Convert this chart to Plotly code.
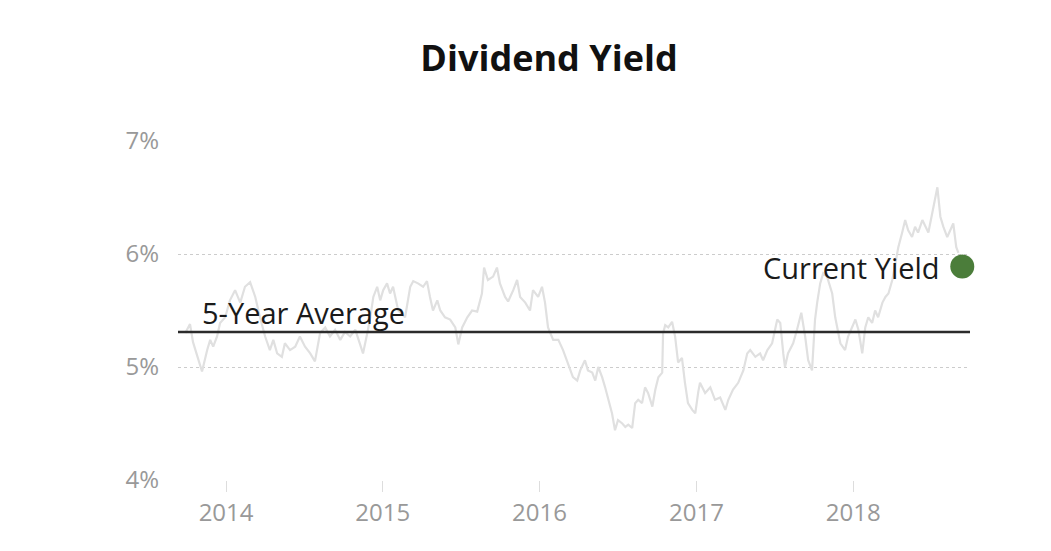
import plotly.graph_objects as go

# ---- data ----
dates = [
    "2013-09-28", "2013-10-09", "2013-10-16", "2013-10-28", "2013-11-06", "2013-11-18", "2013-11-25",
    "2013-12-02", "2013-12-11", "2013-12-18", "2013-12-30", "2014-01-10", "2014-01-22", "2014-02-03",
    "2014-02-14", "2014-02-26", "2014-03-10", "2014-03-21", "2014-04-02", "2014-04-13", "2014-04-21",
    "2014-04-30", "2014-05-11", "2014-05-18", "2014-05-30", "2014-06-11", "2014-06-22", "2014-07-04",
    "2014-07-16", "2014-07-27", "2014-08-08", "2014-08-20", "2014-08-31", "2014-09-12", "2014-09-24",
    "2014-10-05", "2014-10-17", "2014-10-29", "2014-11-09", "2014-11-16", "2014-11-26", "2014-12-03",
    "2014-12-10", "2014-12-19", "2014-12-26", "2015-01-02", "2015-01-11", "2015-01-18", "2015-01-25",
    "2015-02-06", "2015-02-22", "2015-03-06", "2015-03-13", "2015-03-24", "2015-04-05", "2015-04-14",
    "2015-04-21", "2015-04-28", "2015-05-08", "2015-05-15", "2015-05-26", "2015-06-07", "2015-06-19",
    "2015-06-26", "2015-07-05", "2015-07-17", "2015-07-28", "2015-08-09", "2015-08-20", "2015-08-25",
    "2015-09-03", "2015-09-15", "2015-09-24", "2015-10-01", "2015-10-13", "2015-10-20", "2015-11-01",
    "2015-11-10", "2015-11-17", "2015-11-29", "2015-12-10", "2015-12-17", "2015-12-29", "2016-01-07",
    "2016-01-14", "2016-01-21", "2016-02-02", "2016-02-14", "2016-02-25", "2016-03-08", "2016-03-19",
    "2016-03-29", "2016-04-05", "2016-04-16", "2016-04-23", "2016-05-03", "2016-05-10", "2016-05-17",
    "2016-05-26", "2016-06-02", "2016-06-09", "2016-06-18", "2016-06-25", "2016-07-02", "2016-07-12",
    "2016-07-19", "2016-07-26", "2016-08-04", "2016-08-11", "2016-08-18", "2016-08-27", "2016-09-03",
    "2016-09-10", "2016-09-20", "2016-09-27", "2016-10-04", "2016-10-13", "2016-10-15", "2016-10-20",
    "2016-10-27", "2016-11-05", "2016-11-12", "2016-11-19", "2016-11-28", "2016-12-05", "2016-12-12",
    "2016-12-22", "2016-12-29", "2017-01-05", "2017-01-09", "2017-01-21", "2017-02-02", "2017-02-13",
    "2017-02-25", "2017-03-09", "2017-03-16", "2017-03-27", "2017-04-08", "2017-04-20", "2017-04-29",
    "2017-05-06", "2017-05-18", "2017-05-29", "2017-06-05", "2017-06-15", "2017-06-26", "2017-07-08",
    "2017-07-15", "2017-07-22", "2017-07-26", "2017-08-02", "2017-08-14", "2017-08-23", "2017-09-02",
    "2017-09-11", "2017-09-18", "2017-09-27", "2017-10-04", "2017-10-09", "2017-10-16", "2017-10-23",
    "2017-11-01", "2017-11-13", "2017-11-20", "2017-12-02", "2017-12-13", "2017-12-20", "2017-12-30",
    "2018-01-06", "2018-01-13", "2018-01-22", "2018-01-29", "2018-02-05", "2018-02-14", "2018-02-21",
    "2018-02-28", "2018-03-10", "2018-03-17", "2018-03-24", "2018-04-02", "2018-04-09", "2018-04-16",
    "2018-04-25", "2018-05-02", "2018-05-09", "2018-05-18", "2018-05-25", "2018-06-01", "2018-06-11",
    "2018-06-18", "2018-06-25", "2018-07-04", "2018-07-11", "2018-07-16", "2018-07-23", "2018-07-30",
    "2018-08-08", "2018-08-15", "2018-08-22", "2018-08-29", "2018-09-03",
]
yield_pct = [
    5.30, 5.38, 5.22, 5.06, 4.96, 5.15, 5.24,
    5.18, 5.27, 5.39, 5.44, 5.59, 5.68, 5.57,
    5.71, 5.75, 5.62, 5.44, 5.27, 5.15, 5.24,
    5.12, 5.09, 5.21, 5.15, 5.18, 5.27, 5.18,
    5.12, 5.05, 5.30, 5.35, 5.27, 5.33, 5.24,
    5.31, 5.27, 5.33, 5.21, 5.12, 5.30, 5.44,
    5.62, 5.71, 5.59, 5.68, 5.74, 5.65, 5.71,
    5.50, 5.44, 5.71, 5.76, 5.74, 5.71, 5.76,
    5.62, 5.50, 5.59, 5.50, 5.44, 5.42, 5.35,
    5.20, 5.35, 5.44, 5.50, 5.49, 5.65, 5.88,
    5.77, 5.80, 5.88, 5.74, 5.62, 5.58, 5.68,
    5.77, 5.62, 5.57, 5.50, 5.68, 5.62, 5.71,
    5.57, 5.35, 5.24, 5.24, 5.15, 5.02, 4.91,
    4.88, 4.97, 5.06, 4.97, 4.95, 4.88, 5.00,
    4.91, 4.82, 4.71, 4.59, 4.44, 4.53, 4.50,
    4.47, 4.49, 4.46, 4.68, 4.71, 4.68, 4.82,
    4.77, 4.65, 4.80, 4.91, 4.95, 5.30, 5.37,
    5.35, 5.40, 5.27, 5.04, 5.08, 4.86, 4.68,
    4.62, 4.59, 4.78, 4.86, 4.77, 4.82, 4.71,
    4.73, 4.62, 4.71, 4.80, 4.86, 4.97, 5.12,
    5.15, 5.09, 5.12, 5.06, 5.15, 5.21, 5.42,
    5.39, 5.12, 5.00, 5.12, 5.21, 5.33, 5.48,
    5.27, 5.06, 4.97, 5.42, 5.57, 5.74, 5.83,
    5.80, 5.65, 5.44, 5.21, 5.15, 5.27, 5.35,
    5.42, 5.33, 5.12, 5.35, 5.44, 5.39, 5.50,
    5.44, 5.57, 5.62, 5.65, 5.77, 5.92, 6.06,
    6.19, 6.30, 6.21, 6.15, 6.24, 6.19, 6.30,
    6.24, 6.19, 6.36, 6.48, 6.59, 6.33, 6.24,
    6.15, 6.21, 6.27, 6.06, 6.01,
]
five_year_avg = 5.31
current_date = ["2018-09-12"]
current_yield = [5.89]
y_ticks = [4, 5, 6, 7]
y_tick_text = ["4%", "5%", "6%", "7%"]
x_ticks = ["2014-01-01", "2015-01-01", "2016-01-01", "2017-01-01", "2018-01-01"]
x_tick_text = ["2014", "2015", "2016", "2017", "2018"]
x_range = ["2013-09-11", "2018-09-30"]

FONT = "Open Sans"
W, H = 1043, 543  # page body adds an 8px offset

fig = go.Figure()
fig.add_trace(go.Scatter(
    x=dates, y=yield_pct, mode="lines",
    line=dict(color="#e0e0e0", width=2.2),
    hoverinfo="skip", showlegend=False,
))
fig.add_hline(y=five_year_avg, line=dict(color="#2b2b2b", width=2.5), layer="above")
fig.add_trace(go.Scatter(
    x=current_date, y=current_yield, mode="markers",
    marker=dict(color="#4b7d3a", size=24, line=dict(width=0)),
    cliponaxis=False, showlegend=False,
))

fig.add_annotation(
    xref="paper", x=0.028, y=five_year_avg, yref="y",
    text="5-Year Average", showarrow=False,
    xanchor="left", yanchor="bottom", yshift=-2,
    font=dict(family=FONT, size=29, color="#1a1a1a"),
)
fig.add_annotation(
    x=current_date[0], y=current_yield[0],
    text="Current Yield", showarrow=False,
    xanchor="right", yanchor="middle", xshift=-20, yshift=-1,
    font=dict(family=FONT, size=29, color="#1a1a1a"),
)

fig.update_layout(
    width=W, height=H,
    margin=dict(l=170, r=81, t=133, b=71),
    paper_bgcolor="white", plot_bgcolor="white",
    title=dict(
        text="<b>Dividend Yield</b>", x=541 / W, xref="container", xanchor="center",
        y=1 - 50 / H, yref="container", yanchor="middle",
        font=dict(family=FONT, size=36, color="#111111"),
    ),
    showlegend=False,
    xaxis=dict(
        type="date", range=x_range,
        tickvals=x_ticks, ticktext=x_tick_text,
        showgrid=False, zeroline=False, showline=False,
        ticks="outside", ticklen=11, tickcolor="#dddddd", tickwidth=1,
        tickfont=dict(family=FONT, size=24, color="#999999"),
    ),
    yaxis=dict(
        range=[4, 7], tickvals=y_ticks, ticktext=y_tick_text,
        showgrid=True, gridcolor="#cccccc", griddash="dot", gridwidth=1,
        zeroline=False, showline=False, ticks="",
        ticklabelstandoff=18,
        tickfont=dict(family=FONT, size=24, color="#999999"),
    ),
)

fig.write_html("out.html")
